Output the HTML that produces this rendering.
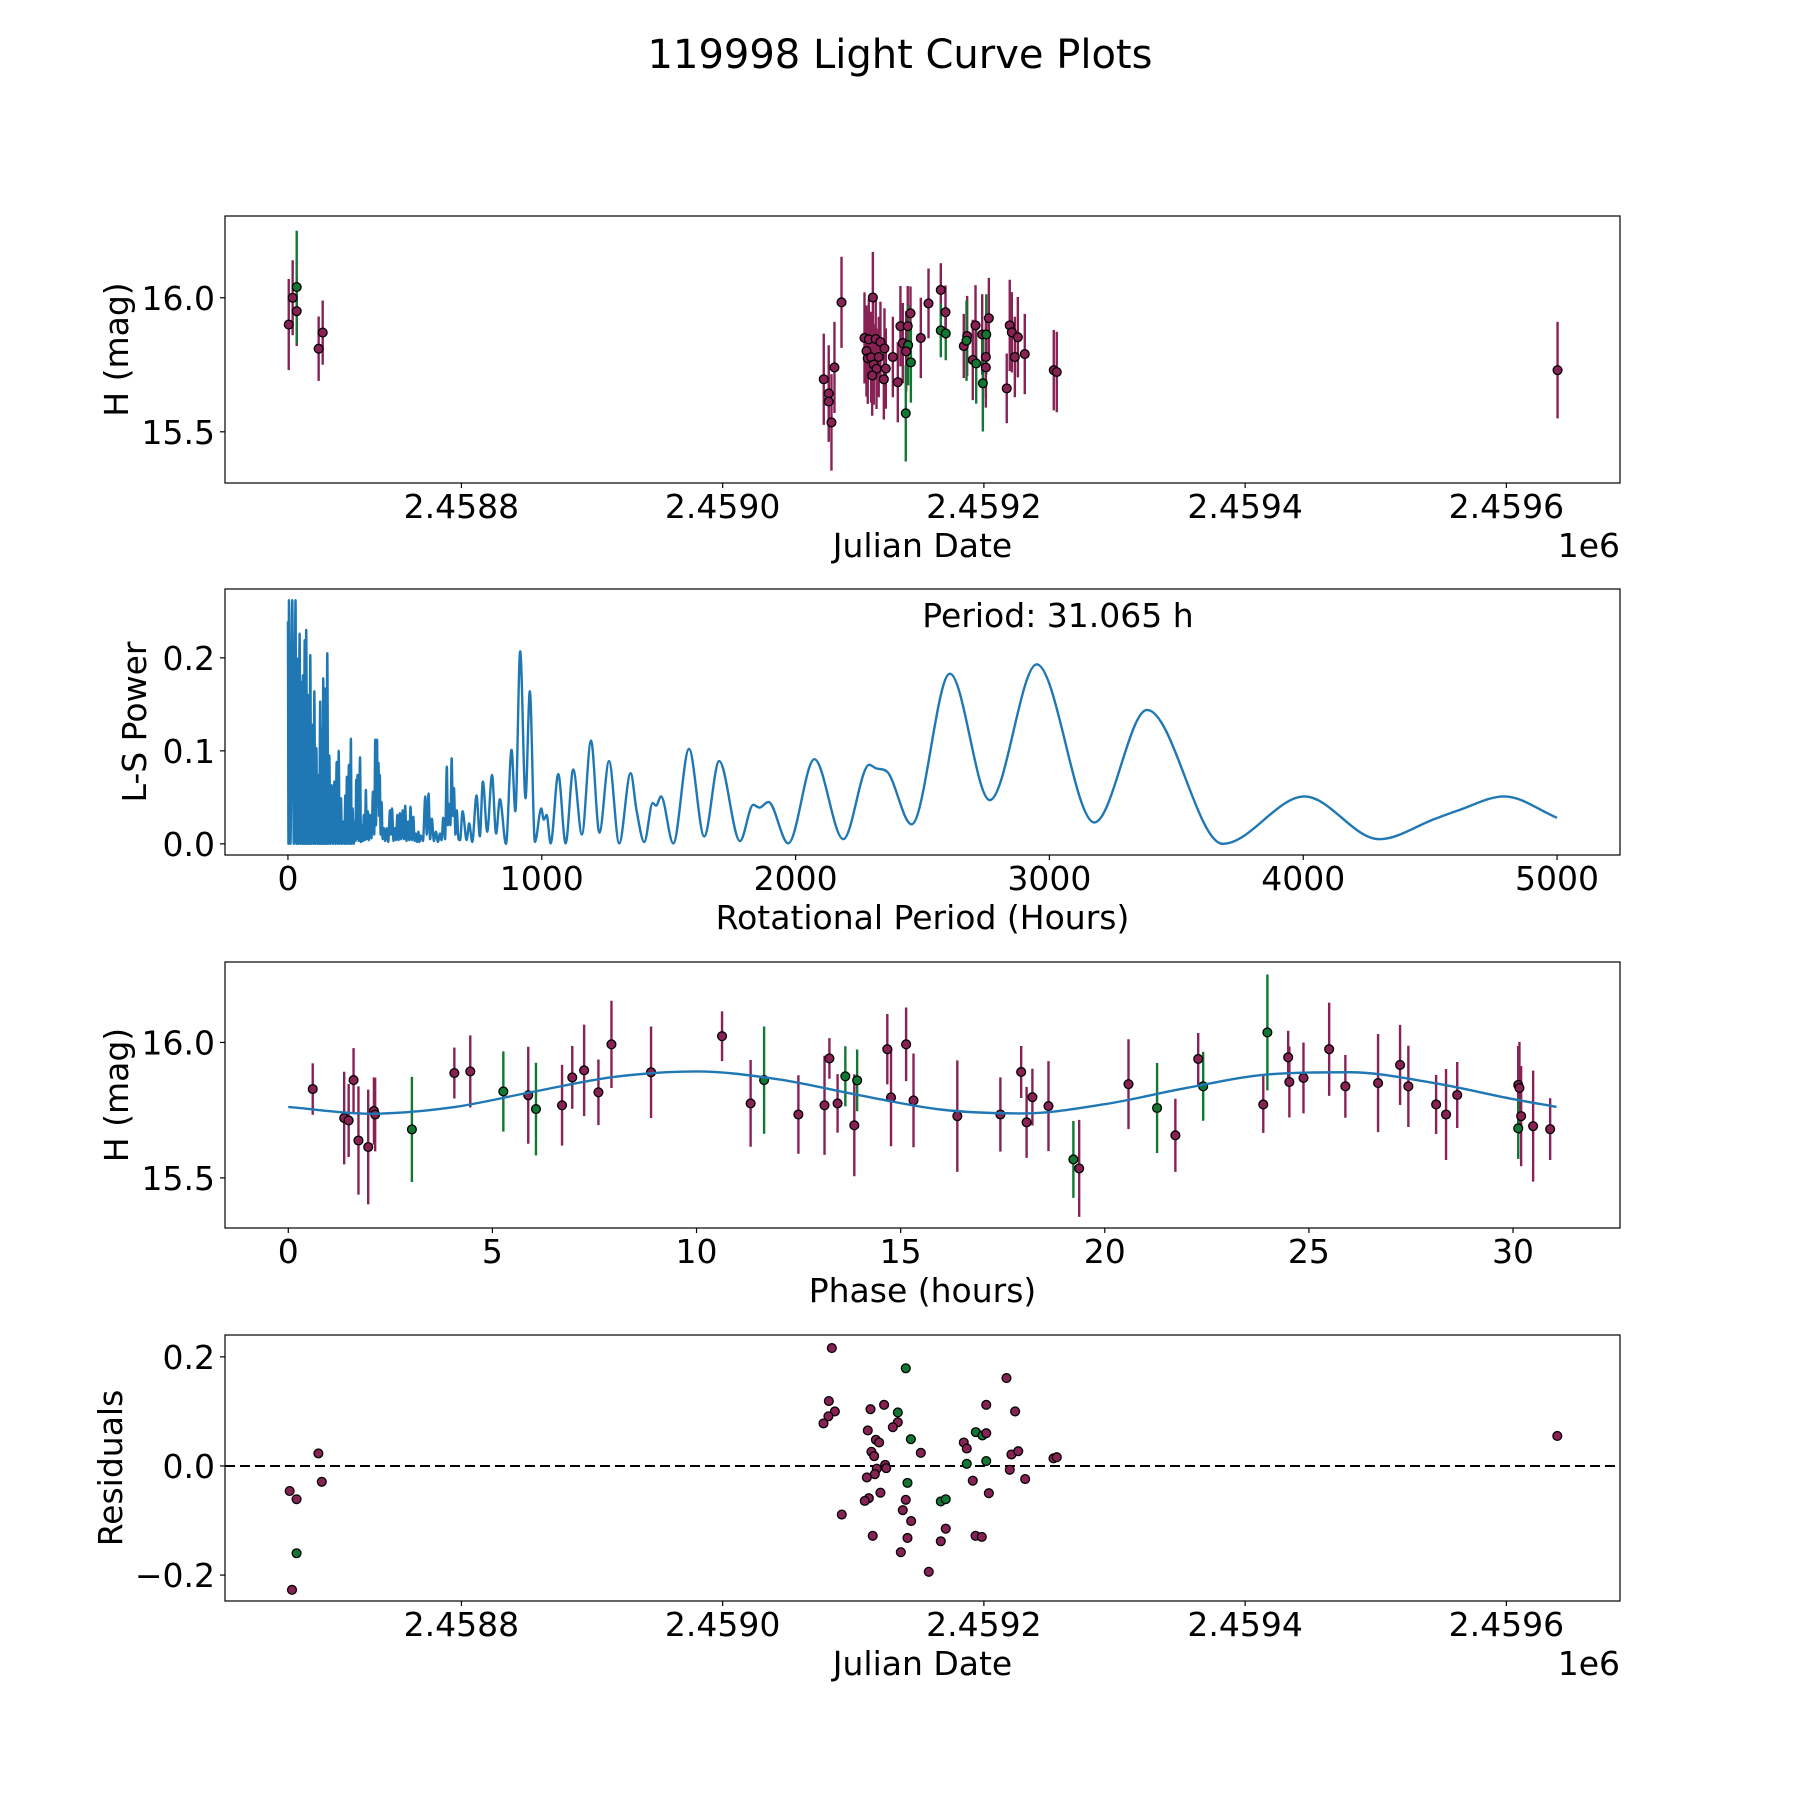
<!DOCTYPE html>
<html><head><meta charset="utf-8"><title>119998 Light Curve Plots</title>
<style>html,body{margin:0;padding:0;background:#fff}svg{display:block}text{font-family:"DejaVu Sans","Liberation Sans",sans-serif;fill:#000}</style>
</head><body>
<svg id="fig" xmlns="http://www.w3.org/2000/svg" width="1800" height="1800" viewBox="0 0 1800 1800">
<rect width="1800" height="1800" fill="#fff"/>
<text x="900" y="68" font-size="40" text-anchor="middle">119998 Light Curve Plots</text>
</svg>
<script>
// ---- Panel 1: light curve (Julian Date vs H mag) ----
const jd1 = [2458667.8,2458670.8,2458673.9,2458673.9,2458690.7,2458693.8,
2459077.4,2459081.2,2459081.2,2459083.3,2459085.6,2459091.0,
2459108.6,2459111.9,2459117.2,2459120.8,2459123.9,2459110.1,2459111.1,2459113.7,2459119.5,2459115.7,2459117.8,2459114.5,2459124.9,2459123.4,2459115.0,
2459130.3,2459134.1,2459136.1,2459141.7,2459137.9,2459142.0,2459140.5,2459143.8,2459144.1,2459140.2,2459151.7,2459157.6,2459167.0,2459167.0,2459170.8,2459170.6,
2459184.6,2459187.2,2459186.7,2459191.5,2459194.1,2459193.6,2459198.7,2459201.8,2459201.5,2459201.5,2459203.8,2459199.2,
2459217.5,2459219.8,2459221.4,2459226.0,2459223.7,2459231.3,2459253.5,2459255.8,2459639.2];
const mag1 = [15.90,16.00,15.95,16.04,15.81,15.87,
15.696,15.643,15.613,15.535,15.740,15.983,
15.850,15.845,15.846,15.835,15.811,15.801,15.774,15.778,15.779,15.751,15.735,15.710,15.736,15.696,16.001,
15.779,15.685,15.894,15.894,15.831,15.823,15.800,15.942,15.759,15.569,15.850,15.979,16.029,15.878,15.867,15.946,
15.820,15.857,15.840,15.768,15.755,15.897,15.863,15.863,15.779,15.740,15.924,15.681,
15.662,15.897,15.871,15.853,15.779,15.790,15.730,15.723,15.73];
const err1 = [0.17,0.14,0.13,0.21,0.12,0.12,
0.17,0.18,0.15,0.18,0.17,0.17,
0.17,0.15,0.15,0.15,0.15,0.17,0.17,0.17,0.15,0.15,0.15,0.15,0.15,0.15,0.17,
0.15,0.15,0.15,0.15,0.15,0.15,0.15,0.10,0.15,0.18,0.15,0.13,0.10,0.10,0.10,0.10,
0.12,0.15,0.15,0.15,0.15,0.15,0.15,0.15,0.15,0.15,0.15,0.18,
0.13,0.17,0.15,0.15,0.15,0.15,0.15,0.15,0.18];
const band1 = ['r','r','r','g','r','r',
'r','r','r','r','r','r',
'r','r','r','r','r','r','r','r','r','r','r','r','r','r','r',
'r','r','r','r','r','g','r','r','g','g','r','r','r','g','g','r',
'r','r','g','r','g','r','r','g','r','r','r','g',
'r','r','r','r','r','r','r','r','r'];
const ticks1 = [2458800,2459000,2459200,2459400,2459600];
const tickLabels1 = ['2.4588','2.4590','2.4592','2.4594','2.4596'];
const yTicks1 = [15.5,16.0];
const yTickLabels1 = ['15.5','16.0'];

// ---- Panel 2: Lomb-Scargle periodogram ----
const periodHours = [0,2,3.9,10,17,23,30,33,37,41,46,50,54,56,59,62,66,69,72,76,
80,84,88,92,97,100,104,108,112,116,120,123,127,130,134,136,139,143,147,151,
155,159,163,167,172,177,183,187,192,196,200,204,209,213,218,222,226,229,232,236,
240,244,248,251,255,259,264,266,269,271,274,279,284,288,292,295,299,303,307,311,
315,319,323,329,335,340,344,347,351,354,357,359,362,365,369,373,378,383,389,395,
402,406,410,416,422,426,431,436,441,446,452,457,462,467,473,478,483,488,494,499,
504,509,514,518,523,532,541,547,554,560,567,575,583,591,599,605,612,619,626,630,
634,640,645,650,654,660,665,672,
678,688,704,714,726,743,756,768,785,804,820,835,859,881,896,915,936,953,973,998,
1008,1019,1035,1065,1094,1124,1158,1194,1227,1265,1305,1350,1374,1404,1437,1450,1470,1518,1580,1640,
1699,1781,1833,1857,1893,1971,2074,2188,2290,2319,2359,2457,2608,2765,2950,3177,3385,3683,4005,4299,
4520,4611,4792,5000];
const lsPower = [0.239,0,0.262,0,0.262,0,0.262,0,0.199,0,0.226,0,0.174,0,0.181,0,0.219,0,0.230,0,
0.160,0,0.203,0,0.128,0,0.164,0,0.103,0,0.074,0,0.153,0,0.124,0,0.178,0,0.167,0,
0.205,0,0.095,0,0.063,0,0.067,0,0.088,0,0.100,0,0.049,0,0.024,0,0.052,0,0.072,0,
0.085,0,0.113,0,0.038,0,0.024,0.003,0.069,0.005,0.074,0.003,0.093,0.002,0.020,0.003,0.031,0.004,0.058,0.005,
0.035,0.004,0.031,0.006,0.056,0.010,0.112,0.020,0.112,0.040,0.087,0.030,0.074,0.010,0.045,0.005,0.017,0.003,0.017,0.002,
0.036,0.010,0.038,0.003,0.017,0.004,0.031,0.004,0.033,0.005,0.036,0.005,0.041,0.003,0.024,0.004,0.040,0.004,0.029,0.003,
0.011,0.002,0.013,0.002,0.009,0.003,0.051,0.010,0.054,0.005,0.027,0.003,0.013,0.002,0.011,0.004,0.028,0.005,0.083,0.020,
0.043,0.020,0.092,0.030,0.060,0.010,0.036,0.005,
0.004,0.035,0.004,0.022,0.002,0.052,0.008,0.067,0.013,0.074,0.011,0.048,0.000,0.101,0.035,0.207,0.049,0.164,0.002,0.038,
0.026,0.031,0.0005,0.075,0.0005,0.080,0.010,0.111,0.012,0.089,0.0005,0.076,0.035,0.002,0.044,0.041,0.051,0.0005,0.102,0.008,
0.089,0.003,0.042,0.039,0.045,0.0005,0.091,0.005,0.085,0.081,0.078,0.021,0.183,0.047,0.193,0.023,0.144,0.000,0.051,0.005,
0.027,0.036,0.051,0.028];
const ticks2 = [0,1000,2000,3000,4000,5000];
const yTicks2 = [0.0,0.1,0.2];
const yTickLabels2 = ['0.0','0.1','0.2'];
const bestPeriodLabel = 'Period: 31.065 h';

// ---- Panel 3: phase-folded light curve ----
const phase3 = [0.599,1.369,1.479,1.599,1.719,1.958,2.098,2.128,3.028,4.068,4.458,5.268,5.878,6.067,6.706,6.956,7.247,7.597,7.916,8.886,
10.625,11.325,11.655,12.495,13.135,13.255,13.455,13.645,13.865,13.934,14.673,14.764,15.134,15.315,
16.388,17.443,17.952,18.085,18.227,18.621,19.231,19.373,20.581,21.281,21.729,22.288,22.410,23.882,23.983,24.492,24.521,24.867,25.496,25.893,
26.694,27.233,27.436,28.116,28.359,28.633,30.127,30.157,30.198,30.127,30.492,30.909];
const mag3 = [15.828,15.721,15.712,15.861,15.638,15.614,15.747,15.734,15.679,15.887,15.893,15.819,15.805,15.754,15.768,15.871,15.897,15.816,15.993,15.890,
16.023,15.775,15.861,15.734,15.768,15.941,15.775,15.875,15.694,15.860,15.975,15.797,15.993,15.786,
15.728,15.734,15.891,15.705,15.798,15.765,15.568,15.535,15.846,15.758,15.657,15.939,15.838,15.771,16.037,15.945,15.854,15.869,15.975,15.838,
15.850,15.917,15.838,15.771,15.734,15.806,15.843,15.832,15.728,15.683,15.691,15.680];
const err3 = [0.095,0.171,0.135,0.118,0.200,0.212,0.124,0.136,0.194,0.094,0.133,0.148,0.179,0.171,0.149,0.116,0.169,0.121,0.161,0.169,
0.092,0.160,0.198,0.145,0.183,0.075,0.108,0.111,0.188,0.114,0.130,0.180,0.136,0.173,
0.206,0.137,0.096,0.131,0.105,0.166,0.142,0.179,0.166,0.166,0.135,0.096,0.127,0.105,0.214,0.098,0.131,0.131,0.172,0.116,
0.181,0.148,0.150,0.109,0.168,0.122,0.144,0.170,0.185,0.113,0.205,0.114];
const band3 = ['r','r','r','r','r','r','r','r','g','r','r','g','r','g','r','r','r','r','r','r',
'r','r','g','r','r','r','r','g','r','g','r','r','r','r',
'r','r','r','r','r','r','g','r','r','g','r','r','g','r','g','r','r','r','r','r',
'r','r','r','r','r','r','r','r','r','g','r','r'];
const modelPhase = [0,2,4,6,8,10,12,14,16,18,20,22,24,26,28,30,31.065];
const modelMag = [15.762,15.737,15.760,15.818,15.873,15.893,15.864,15.805,15.752,15.738,15.772,15.832,15.882,15.890,15.852,15.791,15.762];
const ticks3 = [0,5,10,15,20,25,30];
const yTicks3 = [15.5,16.0];
const yTickLabels3 = ['15.5','16.0'];

// ---- Panel 4: residuals ----
const jd4 = [2458668.5,2458670.3,2458673.8,2458673.8,2458690.5,2458693.1,2459639.0,
2459083.6,2459140.2,2459217.3,2459081.3,2459085.9,2459081.0,2459077.2,2459113.2,2459123.6,2459134.1,2459134.1,2459130.3,2459111.1,2459117.3,
2459119.8,2459144.1,2459113.9,2459116.0,2459151.7,2459184.6,2459186.9,2459193.8,2459198.9,2459201.8,2459201.8,2459223.9,2459221.1,2459226.3,2459253.3,2459255.8,
2459186.9,2459201.8,2459124.4,2459125.2,2459118.0,2459116.5,2459110.4,2459219.8,2459231.6,2459191.5,2459141.5,2459203.8,2459120.8,2459111.9,2459108.8,2459140.2,
2459167.0,2459170.8,2459137.9,2459091.2,2459144.3,2459170.8,2459114.9,2459141.5,2459167.0,2459193.6,2459198.4,2459136.4,2459157.8];
const res4 = [-0.046,-0.227,-0.061,-0.160,0.023,-0.029,0.055,
0.216,0.179,0.161,0.119,0.100,0.091,0.078,0.104,0.112,0.098,0.080,0.071,0.065,0.048,
0.043,0.049,0.026,0.018,0.024,0.043,0.032,0.062,0.056,0.060,0.112,0.100,0.021,0.027,0.014,0.016,
0.004,0.009,0.002,-0.004,-0.005,-0.015,-0.021,-0.007,-0.024,-0.027,-0.031,-0.050,-0.049,-0.059,-0.064,-0.062,
-0.065,-0.061,-0.081,-0.089,-0.101,-0.115,-0.128,-0.132,-0.138,-0.128,-0.130,-0.158,-0.194];
const band4 = ['r','r','r','g','r','r','r',
'r','g','r','r','r','r','r','r','r','g','r','r','r','r',
'r','g','r','r','r','r','r','g','g','r','r','r','r','r','r','r',
'g','g','r','r','r','r','r','r','r','r','g','r','r','r','r','r',
'g','g','r','r','r','r','r','r','r','r','r','r','r'];
const yTicks4 = [-0.2,0.0,0.2];
const yTickLabels4 = ['\u22120.2','0.0','0.2'];

// ---------- rendering ----------
const NS = 'http://www.w3.org/2000/svg';
const svg = document.getElementById('fig');
const COL = {r:'#882255', g:'#117733'};
const BLUE = '#1f77b4';
const FS = 33;
function mk(tag, attrs, parent){
  const e = document.createElementNS(NS, tag);
  for (const k in attrs) e.setAttribute(k, attrs[k]);
  (parent||svg).appendChild(e);
  return e;
}
const L = 225, R = 1620;
const P = [{t:216,b:483},{t:589,b:855},{t:962,b:1228},{t:1335,b:1601}];
const JD0 = 2458619, JD1 = 2459687;
const x1 = jd => L + (jd - JD0)/(JD1 - JD0)*(R - L);
const y1 = m => P[0].b - (m - 15.309)/(16.305 - 15.309)*(P[0].b - P[0].t);
const x2 = h => L + (h + 248)/5496*(R - L);
const y2 = p => P[1].b - (p + 0.012)/0.286*(P[1].b - P[1].t);
const x3 = ph => L + (ph + 1.55)/34.17*(R - L);
const y3 = m => P[2].b - (m - 15.315)/0.982*(P[2].b - P[2].t);
const y4 = r => P[3].b - (r + 0.2475)/0.4875*(P[3].b - P[3].t);

function clip(i){
  const defs = mk('defs', {});
  
  
  const cp = mk('clipPath', {id:'clip'+i}, defs);
  mk('rect', {x:L, y:P[i].t, width:R-L, height:P[i].b-P[i].t}, cp);
}
function frame(i, name){
  const r = mk('rect', {x:L, y:P[i].t, width:R-L, height:P[i].b-P[i].t, fill:'none', stroke:'#000', 'stroke-width':1.2});
  
  
}
function xTicks(i, vals, labels, fx, name){
  vals.forEach((v, k) => {
    const x = fx(v);
    const t = mk('line', {x1:x, x2:x, y1:P[i].b, y2:P[i].b+5, stroke:'#000', 'stroke-width':1.2});
    
    
    const s = mk('text', {x:x, y:P[i].b+35, 'font-size':FS, 'text-anchor':'middle'});
    s.textContent = labels[k];
    
    
  });
}
function yTicks(i, vals, labels, fy, name){
  vals.forEach((v, k) => {
    const y = fy(v);
    const t = mk('line', {x1:L-5, x2:L, y1:y, y2:y, stroke:'#000', 'stroke-width':1.2});
    
    
    const s = mk('text', {x:L-10, y:y+12, 'font-size':FS, 'text-anchor':'end'});
    s.textContent = labels[k];
    
    
  });
}
function xLabel(i, str, name){
  const s = mk('text', {x:(L+R)/2, y:P[i].b+74, 'font-size':FS, 'text-anchor':'middle'});
  s.textContent = str;
  
  
}
function yLabel(i, str, bx, name){
  const cy = (P[i].t + P[i].b)/2;
  const s = mk('text', {x:bx, y:cy, 'font-size':FS, 'text-anchor':'middle', transform:'rotate(-90 '+bx+' '+cy+')'});
  s.textContent = str;
  
  
}
function offsetLabel(i, name){
  const s = mk('text', {x:R, y:P[i].b+74, 'font-size':FS, 'text-anchor':'end'});
  s.textContent = '1e6';
  
  
}
function errPoints(i, xs, ys, es, bands, fx, fy, name){
  const g = mk('g', {'clip-path':'url(#clip'+i+')'});
  
  
  xs.forEach((v, k) => {
    const x = fx(v);
    const eb = mk('line', {x1:x, x2:x, y1:fy(ys[k]+es[k]), y2:fy(ys[k]-es[k]), stroke:COL[bands[k]], 'stroke-width':2.4}, g);
    
    
  });
  xs.forEach((v, k) => {
    const c = mk('circle', {cx:fx(v), cy:fy(ys[k]), r:4.4, fill:COL[bands[k]], stroke:'#000', 'stroke-width':1.3}, g);
    
    
  });
}
function monotonePath(xs, ys, fx, fy){
  const n = xs.length, px = xs.map(fx), py = ys.map(fy);
  const d = [], m = [];
  for (let k = 0; k < n-1; k++) d.push((py[k+1]-py[k])/(px[k+1]-px[k]));
  m[0] = d[0]; m[n-1] = d[n-2];
  for (let k = 1; k < n-1; k++) m[k] = (d[k-1]*d[k] <= 0) ? 0 : (d[k-1]+d[k])/2;
  for (let k = 0; k < n-1; k++){
    if (d[k] === 0){ m[k] = 0; m[k+1] = 0; continue; }
    const a = m[k]/d[k], b = m[k+1]/d[k], s = a*a + b*b;
    if (s > 9){ const t = 3/Math.sqrt(s); m[k] = t*a*d[k]; m[k+1] = t*b*d[k]; }
  }
  let p = 'M' + px[0].toFixed(2) + ',' + py[0].toFixed(2);
  for (let k = 0; k < n-1; k++){
    const h = (px[k+1]-px[k])/3;
    p += 'C' + (px[k]+h).toFixed(2) + ',' + (py[k]+m[k]*h).toFixed(2) + ' ' + (px[k+1]-h).toFixed(2) + ',' + (py[k+1]-m[k+1]*h).toFixed(2) + ' ' + px[k+1].toFixed(2) + ',' + py[k+1].toFixed(2);
  }
  return p;
}

// Panel 1
clip(0);
errPoints(0, jd1, mag1, err1, band1, x1, y1, 'lightcurve');
frame(0, 'lightcurve');
xTicks(0, ticks1, tickLabels1, x1, 'lightcurve');
yTicks(0, yTicks1, yTickLabels1, y1, 'lightcurve');
xLabel(0, 'Julian Date', 'lightcurve');
yLabel(0, 'H (mag)', 128, 'lightcurve');
offsetLabel(0, 'lightcurve');

// Panel 2
clip(1);
const ls = mk('path', {d:monotonePath(periodHours, lsPower, x2, y2), fill:'none', stroke:BLUE, 'stroke-width':2.4, 'stroke-linejoin':'round', 'clip-path':'url(#clip1)'});


frame(1, 'periodogram');
xTicks(1, ticks2, ticks2.map(String), x2, 'periodogram');
yTicks(1, yTicks2, yTickLabels2, y2, 'periodogram');
xLabel(1, 'Rotational Period (Hours)', 'periodogram');
yLabel(1, 'L-S Power', 146, 'periodogram');
const pl = mk('text', {x:1058, y:627, 'font-size':FS, 'text-anchor':'middle'});
pl.textContent = bestPeriodLabel;



// Panel 3
clip(2);
errPoints(2, phase3, mag3, err3, band3, x3, y3, 'phase');
const ml = mk('path', {d:monotonePath(modelPhase, modelMag, x3, y3), fill:'none', stroke:BLUE, 'stroke-width':2.4, 'clip-path':'url(#clip2)'});


frame(2, 'phase');
xTicks(2, ticks3, ticks3.map(String), x3, 'phase');
yTicks(2, yTicks3, yTickLabels3, y3, 'phase');
xLabel(2, 'Phase (hours)', 'phase');
yLabel(2, 'H (mag)', 128, 'phase');

// Panel 4
clip(3);
const zl = mk('line', {x1:L, x2:R, y1:y4(0), y2:y4(0), stroke:'#000', 'stroke-width':2, 'stroke-dasharray':'10 5'});


const g4 = mk('g', {'clip-path':'url(#clip3)'});


jd4.forEach((v, k) => {
  const c = mk('circle', {cx:x1(v), cy:y4(res4[k]), r:4.4, fill:COL[band4[k]], stroke:'#000', 'stroke-width':1.3}, g4);
  
  
});
frame(3, 'residuals');
xTicks(3, ticks1, tickLabels1, x1, 'residuals');
yTicks(3, yTicks4, yTickLabels4, y4, 'residuals');
xLabel(3, 'Julian Date', 'residuals');
yLabel(3, 'Residuals', 122, 'residuals');
offsetLabel(3, 'residuals');
</script>
</body></html>
